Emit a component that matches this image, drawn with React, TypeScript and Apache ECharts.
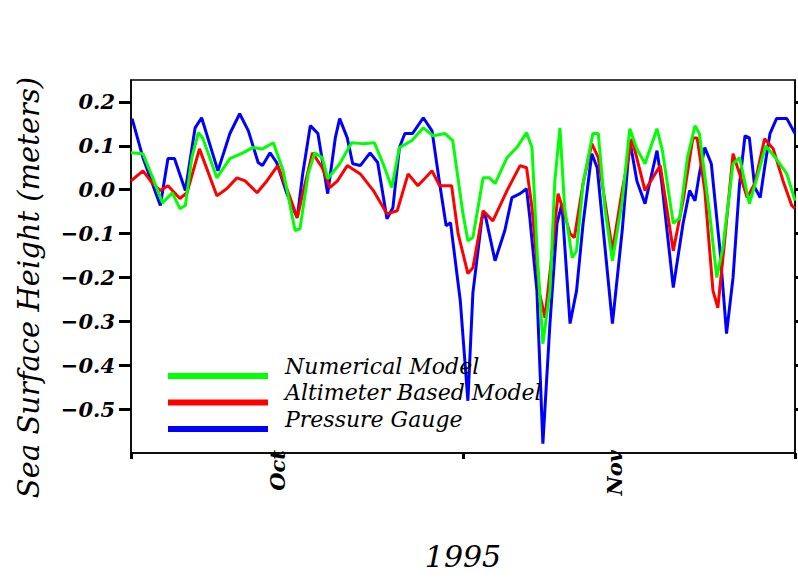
import React, { useEffect, useRef } from "react";
import * as echarts from "echarts";

// x values: days counted from 1 Sept 1995 (1 Oct = 30, 1 Nov = 61)
const xMin = 16.5;
const xMax = 77.6;
const monthTickDays = [30, 61];
const monthLabels = ["Oct", "Nov"];
const xTickDays = [16.5, 47.05, 77.6];

const yMin = -0.6;
const yMax = 0.25;
const yTickValues = [-0.5, -0.4, -0.3, -0.2, -0.1, 0.0, 0.1, 0.2];

const seriesNames = ["Numerical Model", "Altimeter Based Model", "Pressure Gauge"];
const seriesColors = ["#00ff00", "#ff0000", "#0000ff"];

const numericalDays = [16.5, 17.6, 18.5, 19.4, 20.3, 21.0, 21.5, 22.1, 22.7, 23.1, 24.4, 25.6, 26.8, 27.7, 28.6, 29.6, 30.5, 31.6, 32.05, 32.8, 33.4, 34.1, 34.6, 35.7, 36.8, 37.8, 38.9, 39.7, 40.5, 41.2, 42.35, 43.4, 44.3, 45.4, 46.1, 47.05, 47.5, 47.96, 48.9, 49.5, 50.0, 51.1, 52.0, 52.9, 53.4, 53.9, 54.4, 55.05, 55.5, 55.97, 56.4, 57.1, 57.5, 58.1, 59.0, 59.5, 60.1, 60.8, 61.7, 62.4, 63.05, 63.8, 64.9, 65.4, 66.4, 67.0, 67.7, 68.4, 68.8, 69.75, 70.4, 70.96, 71.9, 72.5, 73.4, 74.1, 74.9, 75.8, 76.85, 77.6];
const numericalValues = [0.084, 0.082, 0.027, -0.03, -0.007, -0.043, -0.036, 0.073, 0.13, 0.118, 0.027, 0.071, 0.084, 0.096, 0.093, 0.107, 0.043, -0.093, -0.089, 0.036, 0.084, 0.073, 0.025, 0.059, 0.107, 0.105, 0.107, 0.059, 0.005, 0.096, 0.112, 0.141, 0.123, 0.128, 0.112, -0.055, -0.116, -0.109, 0.027, 0.027, 0.014, 0.073, 0.096, 0.13, 0.096, -0.155, -0.351, -0.23, 0.02, 0.141, -0.041, -0.155, -0.139, 0.014, 0.128, 0.128, -0.041, -0.162, -0.025, 0.139, 0.093, 0.059, 0.139, 0.089, -0.077, -0.064, 0.073, 0.146, 0.128, -0.055, -0.2, -0.132, 0.059, 0.073, -0.032, 0.027, 0.1, 0.073, 0.036, -0.025];

const altimeterDays = [16.5, 17.6, 18.5, 19.2, 19.9, 21.0, 21.65, 22.8, 24.4, 25.3, 26.25, 27.0, 28.1, 29.0, 30.0, 30.9, 31.8, 32.3, 33.2, 34.1, 34.8, 35.5, 36.4, 37.6, 38.8, 40.05, 41.0, 42.0, 42.9, 44.2, 44.9, 46.0, 46.6, 47.5, 47.96, 48.9, 49.8, 51.1, 52.3, 52.9, 53.4, 54.1, 54.6, 55.2, 55.8, 56.2, 56.9, 57.3, 58.1, 58.9, 59.5, 60.1, 60.8, 61.7, 62.6, 63.8, 65.2, 66.4, 67.3, 68.2, 68.6, 69.3, 70.05, 70.5, 71.1, 71.9, 72.5, 73.2, 73.9, 74.8, 75.6, 76.5, 77.3, 77.6];
const altimeterValues = [0.02, 0.043, 0.014, -0.002, 0.009, -0.02, -0.007, 0.093, -0.014, 0.002, 0.027, 0.02, -0.007, 0.02, 0.055, -0.002, -0.064, -0.009, 0.084, 0.05, 0.005, 0.02, 0.055, 0.036, -0.002, -0.055, -0.048, 0.036, 0.009, 0.043, 0.009, 0.009, -0.1, -0.191, -0.178, -0.048, -0.071, -0.002, 0.055, 0.05, -0.041, -0.237, -0.292, -0.155, -0.009, -0.041, -0.1, -0.109, 0.014, 0.105, 0.073, -0.025, -0.139, -0.002, 0.116, -0.002, 0.055, -0.139, -0.025, 0.118, 0.118, -0.002, -0.23, -0.269, -0.123, 0.082, 0.036, -0.018, 0.014, 0.116, 0.093, 0.02, -0.036, -0.043];

const gaugeDays = [16.6, 17.6, 19.2, 19.9, 20.5, 21.5, 22.4, 23.0, 24.5, 25.6, 26.5, 27.3, 28.2, 28.6, 29.3, 29.9, 30.85, 31.8, 32.3, 33.0, 33.7, 34.6, 35.3, 35.7, 36.4, 36.9, 37.6, 38.5, 39.2, 40.05, 40.6, 41.2, 41.7, 42.4, 43.4, 44.2, 44.9, 45.5, 45.9, 46.8, 47.5, 47.96, 48.8, 49.07, 50.0, 50.9, 51.55, 52.3, 52.9, 53.2, 53.85, 54.4, 55.05, 55.7, 56.15, 56.4, 56.9, 57.5, 58.1, 58.9, 59.4, 59.9, 60.8, 61.7, 62.4, 63.05, 63.8, 64.9, 65.35, 66.4, 67.3, 67.9, 68.4, 68.8, 69.3, 69.9, 70.7, 71.3, 71.9, 72.5, 73.0, 73.4, 73.9, 74.4, 74.8, 75.3, 75.9, 76.85, 77.6];
const gaugeValues = [0.162, 0.073, -0.036, 0.071, 0.071, -0.002, 0.141, 0.164, 0.043, 0.128, 0.173, 0.134, 0.062, 0.055, 0.084, 0.062, -0.009, -0.064, 0.036, 0.146, 0.128, -0.009, 0.118, 0.162, 0.118, 0.059, 0.055, 0.084, 0.062, -0.066, -0.041, 0.096, 0.128, 0.128, 0.164, 0.134, 0.014, -0.082, -0.075, -0.253, -0.481, -0.235, -0.064, -0.055, -0.162, -0.093, -0.018, -0.009, 0.002, -0.064, -0.23, -0.579, -0.305, -0.077, -0.032, -0.123, -0.305, -0.23, -0.077, 0.082, 0.05, -0.077, -0.305, -0.093, 0.112, 0.02, -0.032, 0.089, 0.014, -0.223, -0.077, -0.002, -0.025, 0.036, 0.096, 0.059, -0.139, -0.328, -0.2, 0.014, 0.123, 0.118, 0.005, -0.018, 0.05, 0.128, 0.162, 0.162, 0.128];

const zip = (xs: number[], ys: number[]) => xs.map((x, i) => [x, ys[i]]);

const serifItalic = {
  fontFamily: "DejaVu Serif",
  fontStyle: "italic" as const,
  color: "#000",
};

export default function App() {
  const ref = useRef<HTMLDivElement>(null);

  useEffect(() => {
    if (!ref.current) return;
    const chart = echarts.init(ref.current, undefined, { renderer: "svg" });
    const seriesData = [
      zip(numericalDays, numericalValues),
      zip(altimeterDays, altimeterValues),
      zip(gaugeDays, gaugeValues),
    ];
    const drawOrder = [2, 1, 0];
    chart.setOption({
      animation: false,
      backgroundColor: "#fff",
      grid: {
        left: 131,
        right: 3,
        top: 80,
        bottom: 126,
        show: true,
        borderColor: "#000",
        borderWidth: 1.5,
        backgroundColor: "transparent",
      },
      legend: {
        orient: "vertical",
        left: 163,
        top: 348,
        itemWidth: 100,
        itemHeight: 26,
        itemGap: 0.5,
        selectedMode: false,
        icon: "path://M0,0h0.1v0.1h-0.1zM0,20h100v6h-100z",
        itemStyle: { borderWidth: 0 },
        data: seriesNames,
        textStyle: {
          ...serifItalic,
          fontSize: 22,
          lineHeight: 26,
          padding: [0, 0, 0, 12],
        },
      },
      xAxis: {
        type: "value",
        min: xMin,
        max: xMax,
        name: "1995",
        nameLocation: "middle",
        nameGap: 88,
        nameTextStyle: { ...serifItalic, fontSize: 30 },
        splitLine: { show: false },
        axisLine: { show: true, onZero: false, lineStyle: { color: "#000", width: 1.5 } },
        axisTick: {
          show: true,
          customValues: xTickDays,
          length: 6,
          lineStyle: { color: "#000", width: 3 },
        },
        axisLabel: {
          customValues: monthTickDays,
          rotate: 90,
          margin: -3,
          ...serifItalic,
          fontWeight: "bold",
          fontSize: 21,
          formatter: (v: number) => {
            const i = monthTickDays.indexOf(v);
            return i >= 0 ? monthLabels[i] : "";
          },
        },
      },
      yAxis: [
        {
          type: "value",
          min: yMin,
          max: yMax,
          position: "left",
          name: "Sea Surface Height (meters)",
          nameLocation: "middle",
          nameRotate: 90,
          nameGap: 88,
          nameTextStyle: { ...serifItalic, fontSize: 29, padding: [0, 42, 0, 0] },
          splitLine: { show: false },
          axisLine: { show: true, onZero: false, lineStyle: { color: "#000", width: 1.5 } },
          axisTick: {
            show: true,
            customValues: yTickValues,
            length: 12,
            lineStyle: { color: "#000", width: 3 },
          },
          axisLabel: {
            customValues: yTickValues,
            margin: 16,
            ...serifItalic,
            fontWeight: "bold",
            fontSize: 21,
            formatter: (v: number) => v.toFixed(1).replace("-", "\u2212"),
          },
        },
        {
          type: "value",
          min: yMin,
          max: yMax,
          position: "right",
          splitLine: { show: false },
          axisLine: { show: true, onZero: false, lineStyle: { color: "#000", width: 1.5 } },
          axisTick: {
            show: true,
            customValues: yTickValues,
            length: 12,
            lineStyle: { color: "#000", width: 3 },
          },
          axisLabel: { show: false },
        },
      ],
      series: drawOrder.map((i) => ({
        name: seriesNames[i],
        type: "line",
        yAxisIndex: 0,
        data: seriesData[i],
        showSymbol: false,
        symbol: "none",
        color: seriesColors[i],
        lineStyle: { color: seriesColors[i], width: 3 },
        z: 2 + (2 - i),
      })),
    });
    return () => chart.dispose();
  }, []);

  return (
    <div
      ref={ref}
      style={{ position: "fixed", left: 0, top: 0, width: 798, height: 579 }}
    />
  );
}
